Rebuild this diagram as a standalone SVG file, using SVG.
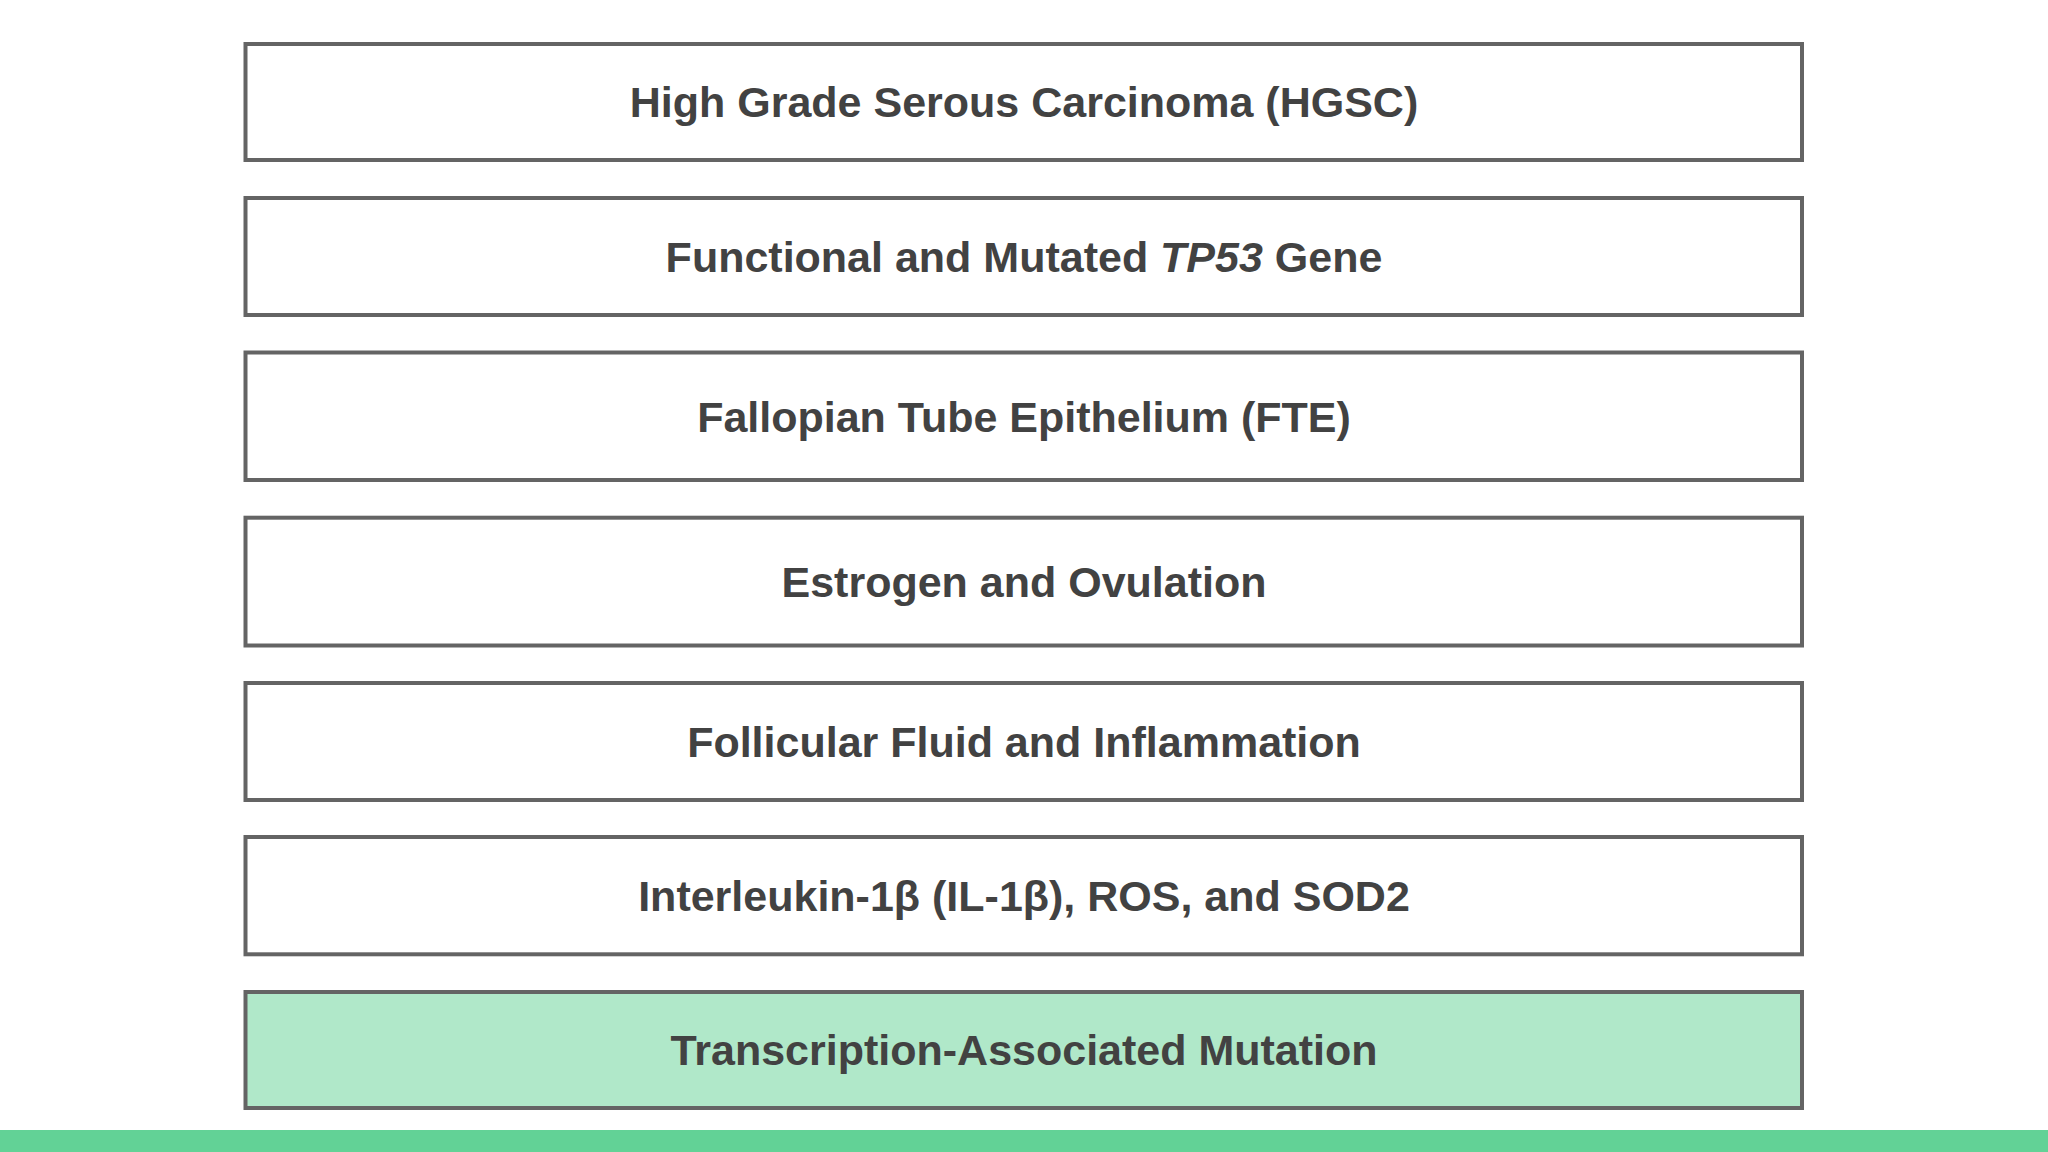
<svg xmlns="http://www.w3.org/2000/svg" width="2048" height="1152" viewBox="0 0 2048 1152">
<style>
.box{fill:#ffffff;stroke:#646464;stroke-width:4}
.hl{fill:#b0e8c9}
.lbl{font-family:"Liberation Sans",Arial,sans-serif;font-weight:700;font-size:43px;fill:#424242;text-anchor:middle}
</style>
<rect x="0" y="0" width="2048" height="1152" fill="#ffffff"/>
<g id="connectors"></g>
<g id="node-hgsc">
<rect class="box" x="245.5" y="44" width="1556.5" height="116"/>
<text class="lbl" x="1024" y="117">High Grade Serous Carcinoma (HGSC)</text>
</g>
<g id="node-tp53">
<rect class="box" x="245.5" y="198" width="1556.5" height="117"/>
<text class="lbl" x="1024" y="271.5">Functional and Mutated <tspan font-style="italic">TP53</tspan> Gene</text>
</g>
<g id="node-fte">
<rect class="box" x="245.5" y="352.5" width="1556.5" height="127.5"/>
<text class="lbl" x="1024" y="431.5">Fallopian Tube Epithelium (FTE)</text>
</g>
<g id="node-estrogen">
<rect class="box" x="245.5" y="517.7" width="1556.5" height="127.8"/>
<text class="lbl" x="1024" y="596.8">Estrogen and Ovulation</text>
</g>
<g id="node-follicular">
<rect class="box" x="245.5" y="683" width="1556.5" height="117"/>
<text class="lbl" x="1024" y="756.5">Follicular Fluid and Inflammation</text>
</g>
<g id="node-il1b">
<rect class="box" x="245.5" y="837" width="1556.5" height="117.3"/>
<text class="lbl" x="1024" y="910.7">Interleukin-1β (IL-1β), ROS, and SOD2</text>
</g>
<g id="node-tam">
<rect class="box hl" x="245.5" y="992" width="1556.5" height="116"/>
<text class="lbl" x="1024" y="1065">Transcription-Associated Mutation</text>
</g>
<rect id="bottom-bar" x="0" y="1130" width="2048" height="22" fill="#62d296"/>
</svg>
